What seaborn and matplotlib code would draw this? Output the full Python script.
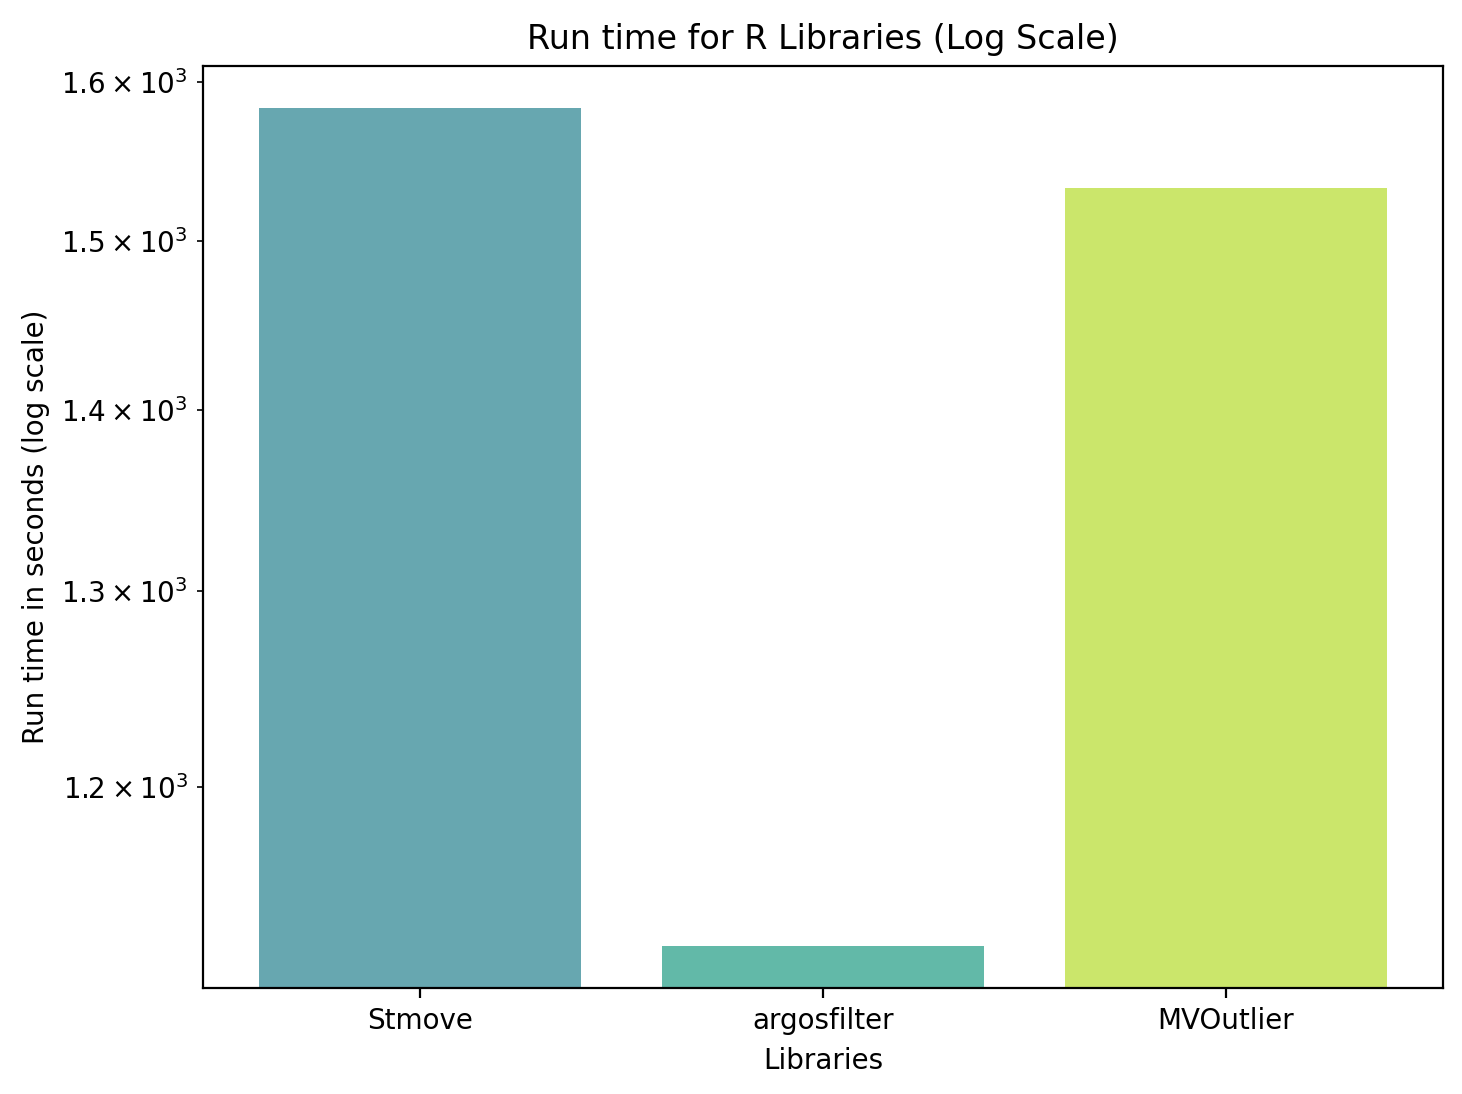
import pandas as pd
import matplotlib
matplotlib.use('Agg')
import matplotlib.pyplot as plt
import seaborn as sns

libraries = ['Stmove', 'argosfilter', 'MVOutlier']
run_times = [1583.5, 1124.6, 1532.5]
bar_colors = ['#67a7b0', '#62b9a8', '#cbe66b']

df = pd.DataFrame({'Libraries': libraries, 'Run time': run_times})

fig = plt.figure(figsize=(7.31, 5.47), dpi=200)
fig.subplots_adjust(left=0.1389, right=0.987, bottom=0.0969, top=0.9397)
ax = fig.add_subplot(111)

sns.barplot(data=df, x='Libraries', y='Run time', hue='Libraries',
            palette=bar_colors, saturation=1, legend=False, ax=ax)
ax.set_yscale('log')
# matplotlib-style 5% margins around the bars instead of seaborn's +-0.5
ax.set_xlim(-0.54, len(libraries) - 1 + 0.54)

ax.set_title('Run time for R Libraries (Log Scale)')
ax.set_xlabel('Libraries')
ax.set_ylabel('Run time in seconds (log scale)')

fig.savefig('out.png', dpi=200)
